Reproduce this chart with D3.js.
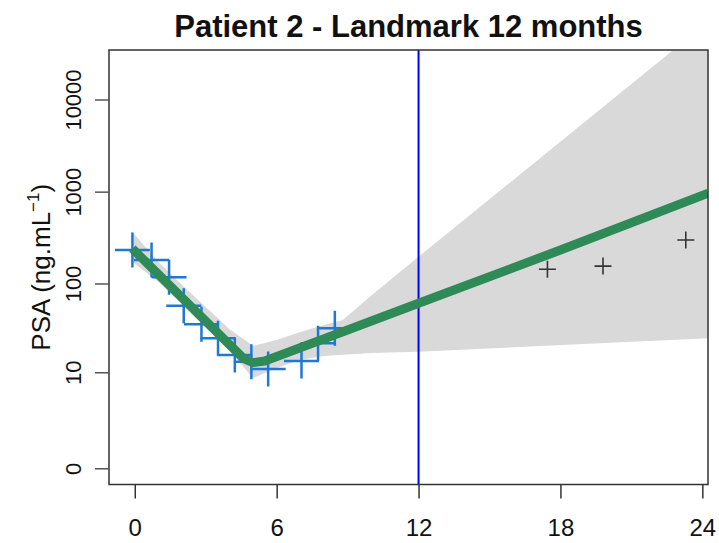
<!DOCTYPE html>
<html>
<head>
<meta charset="utf-8">
<script src="https://cdn.jsdelivr.net/npm/d3@7"></script>
<style>
  body { margin: 0; background: #fff; }
  text { font-family: "Liberation Sans", Arial, sans-serif; }
</style>
</head>
<body>
<div id="chart"></div>
<script>
// observed PSA before the landmark (blue crosses)
const obsTime = [-0.1, 0.71, 1.45, 2.07, 2.82, 3.52, 4.23, 4.93, 5.64, 7.05, 7.75, 8.46];
const obsPSA  = [232, 181, 117, 57, 35.5, 24.7, 15.9, 13.3, 10.9, 13.6, 21.7, 32];

// observed PSA after the landmark (black crosses)
const futTime = [17.45, 19.8, 23.3];
const futPSA  = [143, 155, 298];

// fitted trajectory (green line)
const fitTime = [-0.1, 4.6, 5, 5.5, 8.8, 12, 18, 24.25];
const fitPSA  = [240, 14.5, 13, 13.6, 29.3, 60.6, 232, 965];

// confidence band
const bandTime  = [-0.1, 1, 2, 3, 4, 5, 6, 7, 8, 8.8, 10, 12, 24.25];
const bandLower = [172, 104, 59.5, 33, 18.2, 8.5, 11.2, 14, 15.5, 16, 16.8, 17.4, 24.7];
const bandUpper = [364, 172, 96, 55, 31.4, 20.2, 23.6, 29, 34.8, 39.6, 73.7, 196, 70000];

const xTicks = [0, 6, 12, 18, 24];
const yTicks = [0, 10, 100, 1000, 10000];
const landmark = 12;

const W = 719, H = 543;
const plot = { left: 109, right: 708, top: 50, bottom: 484.5 };

const svg = d3.select("#chart").append("svg")
    .attr("width", W).attr("height", H);

svg.append("rect").attr("width", W).attr("height", H).attr("fill", "#fff");

const x = d3.scaleLinear().domain([-1.09, 24.24]).range([plot.left, plot.right]);
// log(PSA + 1) scale
const y = d3.scaleSymlog().constant(1).domain([-0.5, 34434]).range([plot.bottom, plot.top]);

svg.append("clipPath").attr("id", "clip")
    .append("rect")
    .attr("x", plot.left).attr("y", plot.top)
    .attr("width", plot.right - plot.left).attr("height", plot.bottom - plot.top);

const g = svg.append("g").attr("clip-path", "url(#clip)");

// band
const band = bandTime.map((t, i) => ({ t: t, lo: bandLower[i], hi: bandUpper[i] }));
g.append("path")
    .datum(band)
    .attr("fill", "#d9d9d9")
    .attr("d", d3.area().x(d => x(d.t)).y0(d => y(d.lo)).y1(d => y(d.hi)));

// landmark line
g.append("line")
    .attr("x1", x(landmark)).attr("x2", x(landmark))
    .attr("y1", plot.top).attr("y2", plot.bottom)
    .attr("stroke", "#0000ff").attr("stroke-width", 2);

// crosses
function cross(sel, data, arm, color, width) {
    sel.selectAll(null).data(data).enter().append("path")
        .attr("d", d => `M${x(d.t) - arm},${y(d.v)}H${x(d.t) + arm}M${x(d.t)},${y(d.v) - arm}V${y(d.v) + arm}`)
        .attr("stroke", color).attr("stroke-width", width).attr("fill", "none");
}
cross(g, obsTime.map((t, i) => ({ t: t, v: obsPSA[i] })), 17.5, "#1f78d6", 2.5);
cross(g, futTime.map((t, i) => ({ t: t, v: futPSA[i] })), 8.5, "#333", 1.6);

// fitted line
g.append("path")
    .datum(fitTime.map((t, i) => ({ t: t, v: fitPSA[i] })))
    .attr("fill", "none")
    .attr("stroke", "#2e8b57")
    .attr("stroke-width", 9)
    .attr("stroke-linejoin", "round")
    .attr("d", d3.line().x(d => x(d.t)).y(d => y(d.v)));

// box
svg.append("rect")
    .attr("x", plot.left).attr("y", plot.top)
    .attr("width", plot.right - plot.left).attr("height", plot.bottom - plot.top)
    .attr("fill", "none").attr("stroke", "#333").attr("stroke-width", 1.5);

// axes
const xAxis = svg.append("g")
    .attr("transform", `translate(0,${plot.bottom})`)
    .call(d3.axisBottom(x).tickValues(xTicks).tickSize(14).tickPadding(20));
xAxis.select(".domain").remove();
xAxis.selectAll("line").attr("stroke", "#333").attr("stroke-width", 1.5);
xAxis.selectAll("text").attr("font-size", 24).attr("fill", "#111");

const yAxis = svg.append("g")
    .attr("transform", `translate(${plot.left},0)`)
    .call(d3.axisLeft(y).tickValues(yTicks).tickFormat(d3.format("d")).tickSize(14));
yAxis.select(".domain").remove();
yAxis.selectAll("line").attr("stroke", "#555").attr("stroke-width", 1.5);
yAxis.selectAll("text")
    .attr("font-size", 22).attr("fill", "#111")
    .attr("text-anchor", "middle")
    .attr("dy", 0)
    .attr("transform", d => `translate(-28,0) rotate(-90)`)
    .attr("x", 0).attr("y", 0);

// title
svg.append("text")
    .attr("x", (plot.left + plot.right) / 2).attr("y", 37)
    .attr("text-anchor", "middle")
    .attr("font-size", 31).attr("font-weight", "bold").attr("fill", "#111")
    .text("Patient 2 - Landmark 12 months");

// y label
const yl = svg.append("text")
    .attr("transform", `translate(50,${(plot.top + plot.bottom) / 2}) rotate(-90)`)
    .attr("text-anchor", "middle")
    .attr("font-size", 26).attr("fill", "#111");
yl.append("tspan").text("PSA (ng.mL");
yl.append("tspan").attr("font-size", 17).attr("dy", -11).text("\u22121");
yl.append("tspan").attr("dy", 11).text(")");
</script>
</body>
</html>
